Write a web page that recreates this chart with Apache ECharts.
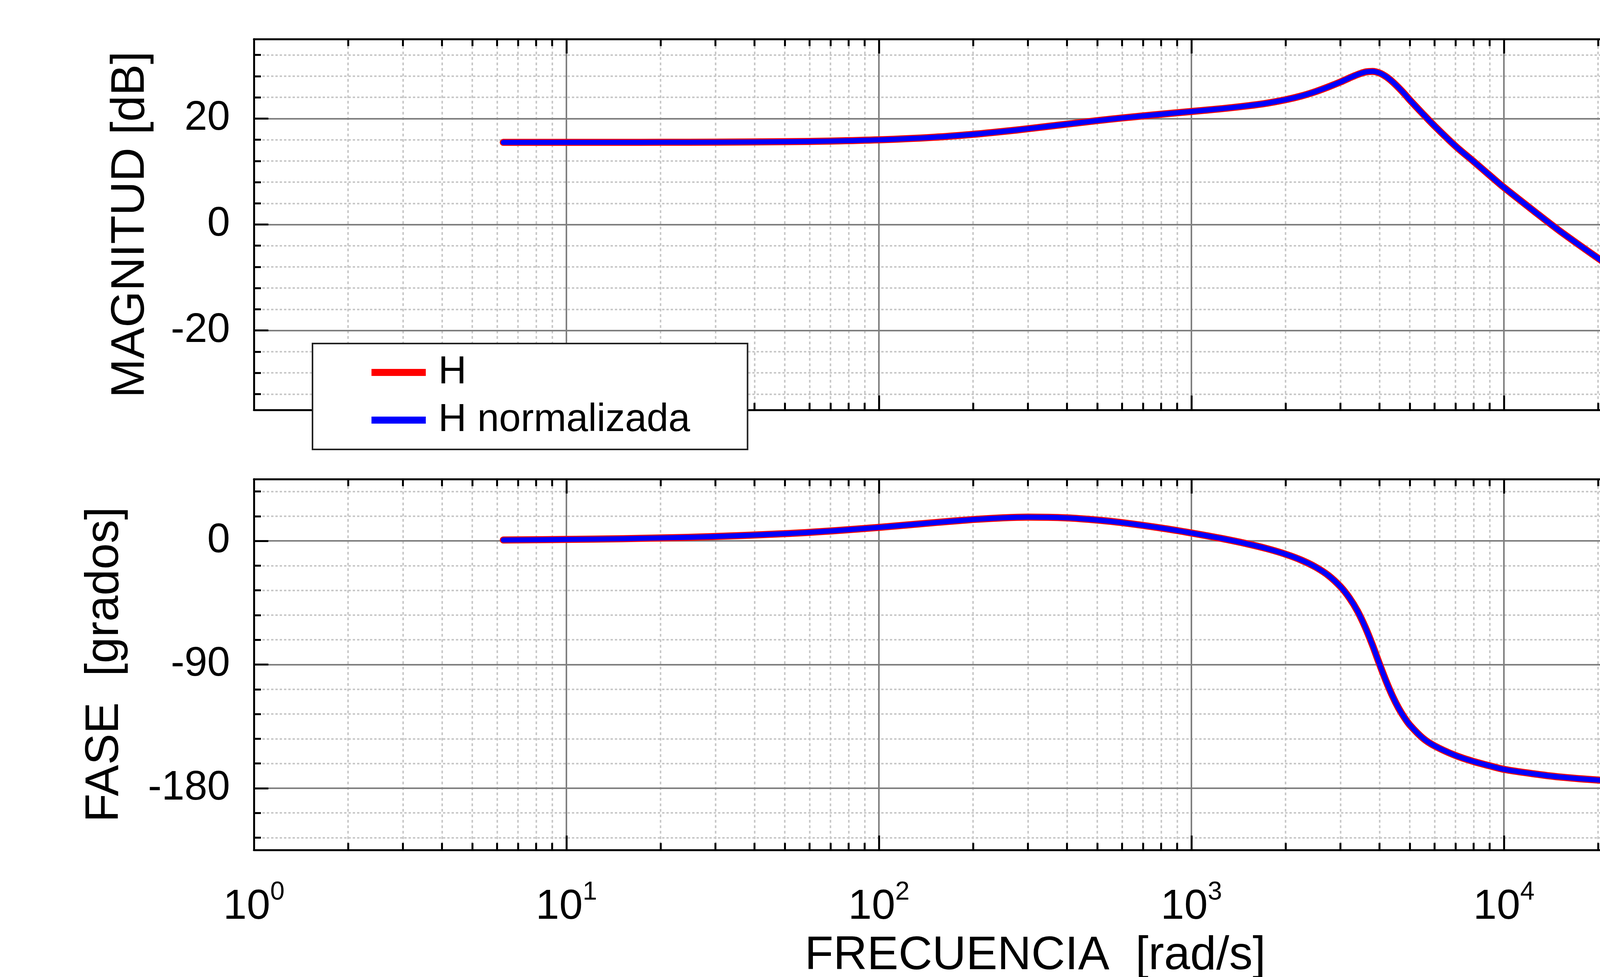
<!DOCTYPE html>
<html>
<head>
<meta charset="utf-8">
<script src="https://cdn.jsdelivr.net/npm/echarts@6/dist/echarts.min.js"></script>
<style>
html,body{margin:0;padding:0;background:#fff;}
#chart{width:5000px;height:2500px;}
</style>
</head>
<body>
<div id="chart"></div>
<script>
// ---------- data ----------
const freq = [6.28, 10, 15, 20, 30, 50, 70, 100, 150, 200, 250, 300, 400, 500, 600, 800,
  1000, 1250, 1500, 1750, 2000, 2250, 2500, 2750, 3000, 3200, 3400, 3600, 3800, 4000,
  4200, 4400, 4600, 4800, 5000, 5500, 6000, 7000, 8000, 9000, 10000, 12500, 15000,
  20000, 30000, 40000, 50000, 70000, 100000];
const magH = [15.50, 15.51, 15.51, 15.52, 15.55, 15.63, 15.75, 15.98, 16.47, 17.02, 17.57, 18.08,
  18.95, 19.61, 20.11, 20.82, 21.33, 21.86, 22.38, 22.92, 23.55, 24.27, 25.1, 26.0, 26.9,
  27.65, 28.3, 28.78, 28.9, 28.6, 27.9, 26.95, 25.85, 24.7, 23.5, 20.9, 18.6, 14.8, 11.9,
  9.3, 7.0, 2.5, -1.1, -6.35, -13.55, -18.6, -22.5, -28.4, -34.4];
const magHn = [15.50, 15.51, 15.51, 15.52, 15.55, 15.63, 15.75, 15.98, 16.47, 17.02, 17.57, 18.08,
  18.95, 19.61, 20.11, 20.82, 21.33, 21.86, 22.38, 22.92, 23.55, 24.27, 25.1, 26.0, 26.9,
  27.65, 28.3, 28.78, 28.9, 28.6, 27.9, 26.95, 25.85, 24.7, 23.5, 20.9, 18.6, 14.8, 11.9,
  9.3, 7.0, 2.5, -1.1, -6.35, -13.55, -18.6, -22.5, -28.4, -34.4];
const phaseH = [0.68, 1.08, 1.62, 2.16, 3.22, 5.28, 7.23, 9.86, 13.31, 15.59, 16.84, 17.32,
  16.78, 15.22, 13.31, 9.40, 5.80, 1.77, -1.98, -5.69, -9.63, -14.0, -19.1, -25.3, -33.3,
  -41.3, -51.0, -62.8, -76.0, -89.7, -102.2, -112.9, -121.6, -128.5, -134.0, -143.5, -149.2,
  -156.2, -160.6, -163.7, -166.3, -169.6, -171.8, -174.1, -176.2, -177.15, -177.7, -178.4, -178.9];
const phaseHn = [0.68, 1.08, 1.62, 2.16, 3.22, 5.28, 7.23, 9.86, 13.31, 15.59, 16.84, 17.32,
  16.78, 15.22, 13.31, 9.40, 5.80, 1.77, -1.98, -5.69, -9.63, -14.0, -19.1, -25.3, -33.3,
  -41.3, -51.0, -62.8, -76.0, -89.7, -102.2, -112.9, -121.6, -128.5, -134.0, -143.5, -149.2,
  -156.2, -160.6, -163.7, -166.3, -169.6, -171.8, -174.1, -176.2, -177.15, -177.7, -178.4, -178.9];

const seriesNames = ['H', 'H normalizada'];
const xDecades = [1, 10, 100, 1000, 10000, 100000];
const xMinorMult = [2, 3, 4, 5, 6, 7, 8, 9];
const magRange = [-35, 35];
const magMajor = [-20, 0, 20];
const magMinor = [-32, -28, -24, -16, -12, -8, -4, 4, 8, 12, 16, 24, 28, 32];
const phaseRange = [-225, 45];
const phaseMajor = [-180, -90, 0];
const phaseMinor = [-216, -198, -162, -144, -126, -108, -72, -54, -36, -18, 18, 36];
const xTitle = 'FRECUENCIA  [rad/s]';
const yTitles = ['MAGNITUD [dB]', 'FASE  [grados]'];

// ---------- helpers ----------
const FONT = '"Liberation Sans", Arial, Helvetica, sans-serif';
const xMinor = [];
xDecades.slice(0, -1).forEach(d => xMinorMult.forEach(m => xMinor.push(m * d)));
const xMajorGrid = xDecades.slice(1, -1);

function pairs(xs, ys) { return xs.map((x, i) => [x, ys[i]]); }

const frameLine = { show: true, onZero: false, lineStyle: { color: '#000', width: 5 } };
const tickStyle = { color: '#000', width: 5 };

function xAxesFor(g, withLabels) {
  const base = {
    gridIndex: g, type: 'log', logBase: 10, min: 1, max: 100000,
    splitLine: { show: false }, minorTick: { show: false }, minorSplitLine: { show: false },
    axisLine: { show: false, onZero: false }, axisLabel: { show: false }, z: 5
  };
  const main = Object.assign({}, base, {
    position: 'bottom', axisLine: frameLine,
    axisTick: { show: true, inside: true, length: 37, customValues: xDecades, lineStyle: tickStyle }
  });
  if (withLabels) {
    main.axisLabel = {
      show: true, customValues: xDecades, margin: 76, color: '#000',
      formatter: v => '{b|10}{s|' + Math.round(Math.log10(v)) + '}',
      rich: {
        b: { fontSize: 108, lineHeight: 140, fontFamily: FONT, color: '#000' },
        s: { fontSize: 66, lineHeight: 66, verticalAlign: 'top', fontFamily: FONT, color: '#000' }
      }
    };
    main.name = xTitle;
    main.nameLocation = 'middle';
    main.nameGap = 212;
    main.nameTextStyle = { fontSize: 120, fontFamily: FONT, color: '#000' };
  }
  return [
    main,
    Object.assign({}, base, { position: 'bottom',
      axisTick: { show: true, inside: true, length: 18, customValues: xMinor, lineStyle: tickStyle } }),
    Object.assign({}, base, { position: 'top', axisLine: frameLine,
      axisTick: { show: true, inside: true, length: 37, customValues: xDecades, lineStyle: tickStyle } }),
    Object.assign({}, base, { position: 'top',
      axisTick: { show: true, inside: true, length: 18, customValues: xMinor, lineStyle: tickStyle } })
  ];
}

function yAxesFor(g, range, major, minor, title, nameGap) {
  const base = {
    gridIndex: g, type: 'value', min: range[0], max: range[1],
    splitLine: { show: false }, axisLine: { show: false, onZero: false },
    axisLabel: { show: false }, z: 5
  };
  return [
    Object.assign({}, base, { position: 'left', axisLine: frameLine,
      axisTick: { show: true, inside: true, length: 37, customValues: major, lineStyle: tickStyle },
      axisLabel: { show: true, customValues: major, margin: 61, fontSize: 105, fontFamily: FONT, color: '#000' },
      name: title, nameLocation: 'middle', nameRotate: 90, nameGap: nameGap,
      nameTextStyle: { fontSize: 120, fontFamily: FONT, color: '#000' } }),
    Object.assign({}, base, { position: 'left',
      axisTick: { show: true, inside: true, length: 18, customValues: minor, lineStyle: tickStyle } }),
    Object.assign({}, base, { position: 'right', axisLine: frameLine,
      axisTick: { show: true, inside: true, length: 37, customValues: major, lineStyle: tickStyle } }),
    Object.assign({}, base, { position: 'right',
      axisTick: { show: true, inside: true, length: 18, customValues: minor, lineStyle: tickStyle } })
  ];
}

const minorV = { color: '#c8c8c8', width: 4, type: [7, 7] };
const minorH = { color: '#c8c8c8', width: 4, type: [6, 5] };
const majorL = { color: '#7f7f7f', width: 4, type: 'solid' };

function gridLines(yMajor, yMinor) {
  const d = [];
  xMinor.forEach(v => d.push({ xAxis: v, lineStyle: minorV }));
  yMinor.forEach(v => d.push({ yAxis: v, lineStyle: minorH }));
  xMajorGrid.forEach(v => d.push({ xAxis: v, lineStyle: majorL }));
  yMajor.forEach(v => d.push({ yAxis: v, lineStyle: majorL }));
  return d;
}

function gridSeries(g, yMajor, yMinor) {
  return {
    type: 'line', name: '_grid' + g, xAxisIndex: g * 4, yAxisIndex: g * 4, data: [],
    silent: true,
    markLine: {
      silent: true, symbol: ['none', 'none'], label: { show: false }, z: 1,
      animation: false, emphasis: { disabled: true }, data: gridLines(yMajor, yMinor)
    }
  };
}

function curve(g, name, ys, color, width, z) {
  return {
    type: 'line', name: name, xAxisIndex: g * 4, yAxisIndex: g * 4,
    data: pairs(freq, ys), showSymbol: false, symbol: 'none', smooth: 0.3,
    lineStyle: { color: color, width: width, cap: 'round', join: 'round' },
    itemStyle: { color: color }, z: z, animation: false, emphasis: { disabled: true }
  };
}

const chart = echarts.init(document.getElementById('chart'), null, { renderer: 'canvas' });
chart.setOption({
  backgroundColor: '#ffffff',
  animation: false,
  textStyle: { fontFamily: FONT },
  grid: [
    { left: 650, right: 350, top: 100, height: 949, outerBoundsMode: 'none', containLabel: false },
    { left: 650, right: 350, top: 1226, height: 949, outerBoundsMode: 'none', containLabel: false }
  ],
  xAxis: xAxesFor(0, false).concat(xAxesFor(1, true)),
  yAxis: yAxesFor(0, magRange, magMajor, magMinor, yTitles[0], 255)
    .concat(yAxesFor(1, phaseRange, phaseMajor, phaseMinor, yTitles[1], 321)),
  legend: {
    data: seriesNames, orient: 'vertical', left: 800, top: 879,
    padding: [24, 147, 25, 151], itemWidth: 139, itemHeight: 18, itemGap: 22,
    icon: 'rect', backgroundColor: '#ffffff', borderColor: '#222', borderWidth: 4,
    itemStyle: { borderWidth: 0 }, selectedMode: false, z: 10,
    textStyle: { fontSize: 100, fontFamily: FONT, color: '#000', padding: [0, 0, 0, 27] }
  },
  series: [
    gridSeries(0, magMajor, magMinor),
    gridSeries(1, phaseMajor, phaseMinor),
    curve(0, seriesNames[0], magH, '#ff0000', 18, 3),
    curve(0, seriesNames[1], magHn, '#0000ff', 13, 4),
    curve(1, seriesNames[0], phaseH, '#ff0000', 18, 3),
    curve(1, seriesNames[1], phaseHn, '#0000ff', 13, 4)
  ]
});
</script>
</body>
</html>
